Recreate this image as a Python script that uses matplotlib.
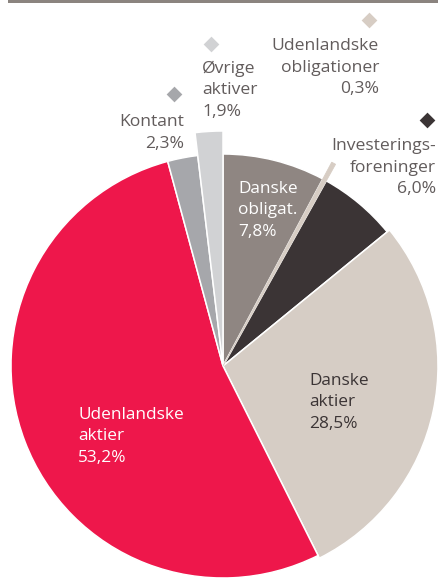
import matplotlib
matplotlib.use("Agg")
import matplotlib.pyplot as plt
from matplotlib.patches import Rectangle

# ---- data ----
categories = ["Danske obligat.", "Udenlandske obligationer", "Investeringsforeninger",
              "Danske aktier", "Udenlandske aktier", "Kontant", "Øvrige aktiver"]
values = [7.8, 0.3, 6.0, 28.5, 53.2, 2.3, 1.9]
colors = ["#8f8682", "#d7cdc4", "#3b3435", "#d6cdc5", "#ee174b", "#a6a7ab", "#d1d2d4"]
label_lines = [["Danske", "obligat."], ["Udenlandske", "obligationer"],
               ["Investerings-", "foreninger"], ["Danske", "aktier"],
               ["Udenlandske", "aktier"], ["Kontant"], ["Øvrige", "aktiver"]]

W, H = 438, 579
fig = plt.figure(figsize=(W / 100, H / 100), dpi=100)
ax = fig.add_axes([0, 0, 1, 1])

def py(y):  # pixel row -> data y
    return H - y

cx, cy = 223, py(366)
base_r = 212
radii = [212, 231, 212, 215, 212, 212, 235]

wedges, _ = ax.pie(values, colors=colors, startangle=90, counterclock=False,
                   center=(cx, cy), radius=base_r, frame=True,
                   wedgeprops=dict(edgecolor="white", linewidth=1.1))
for w, r in zip(wedges, radii):
    w.set_radius(r)
# very thin slice: no white border so it stays visible
wedges[1].set_edgecolor(colors[1])
wedges[1].set_linewidth(0.6)
wedges[1].set_zorder(5)
ax.set_xlim(0, W)
ax.set_ylim(0, H)
ax.set_aspect("equal")
ax.axis("off")

# top bar
ax.add_patch(Rectangle((8, py(3)), W - 8, 3, color="#8b847f", lw=0, clip_on=False))

font = "Open Sans"
lh = 21.5

def pct(v):
    return f"{v:.1f}".replace(".", ",") + "%"

def draw_lines(lines, x, y0, ha, color, fs, weight="normal"):
    for i, t in enumerate(lines):
        ax.text(x, py(y0 + i * lh), t, ha=ha, va="baseline", fontsize=fs,
                family=font, color=color, fontweight=weight)

# inside labels: (index, x, first baseline px, color)
inside = [(0, 238, 193, "white"), (3, 309, 385, "#3b3435"), (4, 78, 419, "white")]
for i, x, y0, c in inside:
    draw_lines(label_lines[i] + [pct(values[i])], x, y0, "left", c, 12.4)

# outside labels: (index, x, first baseline, ha, diamond x, diamond y)
outside = [(5, 184, 126, "right", 174, 94),
           (6, 202, 73, "left", 211, 44),
           (1, 379, 50, "right", 369, 20),
           (2, 436, 150, "right", 427, 120)]
outer_color = "#625c5c"
for i, x, y0, ha, dx, dy in outside:
    draw_lines(label_lines[i] + [pct(values[i])], x, y0, ha, outer_color, 12.6)
    ax.scatter([dx], [py(dy)], marker="D", s=64, color=colors[i],
               linewidths=0, zorder=6)

fig.savefig("out.png", dpi=100)
